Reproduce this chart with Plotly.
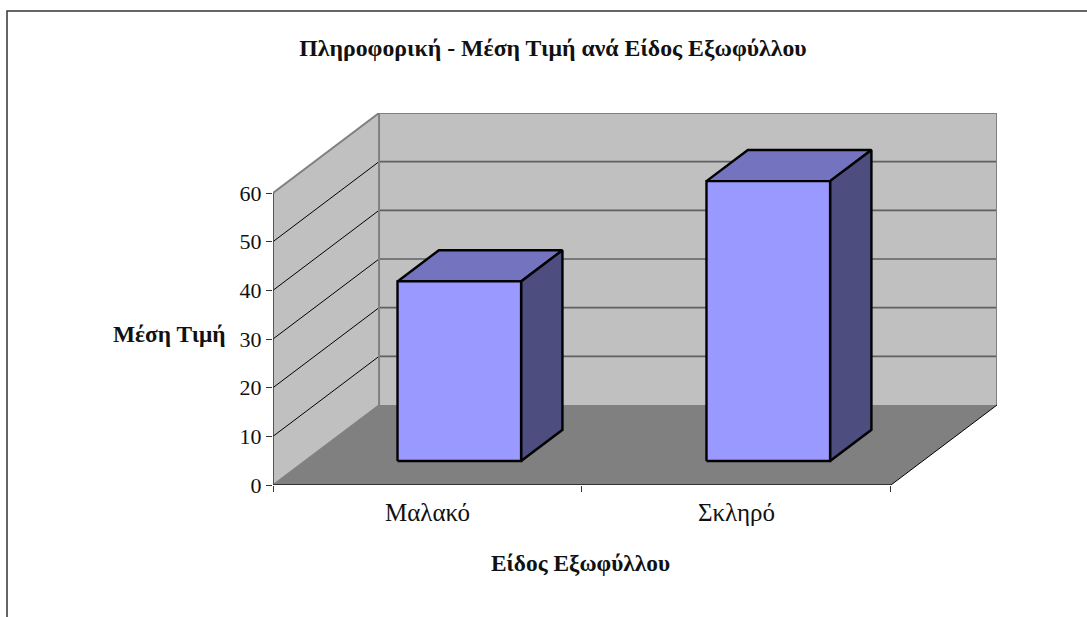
import plotly.graph_objects as go

# Data
categories = ["Μαλακό", "Σκληρό"]
values = [36.9, 57.5]
y_ticks = [0, 10, 20, 30, 40, 50, 60]
title_text = "Πληροφορική - Μέση Τιμή ανά Είδος Εξωφύλλου"
x_title = "Είδος Εξωφύλλου"
y_title = "Μέση Τιμή"

# Oblique projection of the 3D box, in axis units
DX = 106 / 308.85   # horizontal shift of the full depth, in category units
DY = 80 / 4.867     # vertical shift of the full depth, in value units
YMAX = 60
N = len(categories)
BAR_W = 0.2         # half width of bar in category units
D0, D1 = 0.30, 0.69 # bar depth extent


def P(x, y, d=0.0):
    return x + d * DX, y + d * DY


def poly(pts, fill=None, line="black", width=1.0):
    xs = [P(*p)[0] for p in pts]
    ys = [P(*p)[1] for p in pts]
    kw = dict(x=xs, y=ys, mode="lines", hoverinfo="skip", showlegend=False, cliponaxis=False)
    if fill:
        xs.append(xs[0]); ys.append(ys[0])
        kw.update(fill="toself", fillcolor=fill)
    if line is None:
        kw["line"] = dict(width=0)
    else:
        kw["line"] = dict(color=line, width=width)
    return go.Scatter(**kw)


fig = go.Figure()
WALL, FLOOR, EDGE, GRID = "#C0C0C0", "#808080", "#808080", "#606060"

# Floor, walls
fig.add_trace(poly([(0, 0, 0), (N, 0, 0), (N, 0, 1), (0, 0, 1)], fill=FLOOR, line=None))
fig.add_trace(poly([(0, 0, 1), (N, 0, 1), (N, YMAX, 1), (0, YMAX, 1)], fill=WALL, line=None))
fig.add_trace(poly([(0, 0, 0), (0, 0, 1), (0, YMAX, 1), (0, YMAX, 0)], fill=WALL, line=None))

# Gridlines
for t in y_ticks[1:-1]:
    fig.add_trace(poly([(0, t, 1), (N, t, 1)], line=GRID, width=1.6))
    fig.add_trace(poly([(0, t, 0), (0, t, 1)], line="#000000", width=1))

# Wall edges
fig.add_trace(poly([(0, 0, 0), (0, 0, 1)], line=FLOOR, width=1.5))
fig.add_trace(poly([(0, YMAX, 0), (0, YMAX, 1), (N, YMAX, 1), (N, 0, 1)], line=EDGE, width=2))
fig.add_trace(poly([(0, 0, 1), (0, YMAX, 1)], line=EDGE, width=2))
fig.add_trace(poly([(N, 0, 0), (N, 0, 1)], line="#000000", width=1))

# Bars
for i, v in enumerate(values):
    x0, x1 = i + 0.5 - BAR_W, i + 0.5 + BAR_W
    fig.add_trace(poly([(x0, v, D0), (x1, v, D0), (x1, v, D1), (x0, v, D1)], fill="#7373BF", line="#000000", width=2.4))
    fig.add_trace(poly([(x1, 0, D0), (x1, 0, D1), (x1, v, D1), (x1, v, D0)], fill="#4D4D80", line="#000000", width=2.4))
    fig.add_trace(poly([(x0, 0, D0), (x1, 0, D0), (x1, v, D0), (x0, v, D0)], fill="#9999FF", line="#000000", width=2.4))

# Front axis lines
fig.add_trace(poly([(0, 0, 0), (0, YMAX, 0)], line="#333333", width=1.5))
fig.add_trace(poly([(0, 0, 0), (N, 0, 0)], line="#333333", width=2))

W, H = 1087, 617
ML, MR, MT, MB = 273, 90, 113, 132
FONT = "Liberation Serif"
TXT = "#111111"
PW, PH = W - ML - MR, H - MT - MB


def px(v):
    return (v - ML) / PW


def py(v):
    return (H - MB - v) / PH


fig.update_layout(
    width=W, height=H,
    margin=dict(l=ML, r=MR, t=MT, b=MB, autoexpand=False),
    paper_bgcolor="white", plot_bgcolor="white",
    font=dict(family=FONT, color=TXT, size=20),
    title=dict(text="<b>" + title_text + "</b>", x=553 / W, xanchor="center", y=1 - 48 / H, yanchor="middle",
               font=dict(size=23.8, family=FONT, color=TXT)),
    xaxis=dict(range=[0, N + DX], tickmode="array",
               tickvals=[i + 0.5 for i in range(N)], ticktext=categories,
               ticks="", showgrid=False, zeroline=False, showline=False,
               ticklabelstandoff=10,
               tickfont=dict(size=25, family=FONT, color=TXT),
               minor=dict(tickmode="array", tickvals=list(range(N + 1)), ticks="outside", ticklen=6, tickwidth=1, tickcolor="#333333"),
               fixedrange=True),
    yaxis=dict(range=[0, YMAX + DY], tickmode="array", tickvals=y_ticks,
               ticks="outside", ticklen=6, tickwidth=1, tickcolor="#333333",
               showgrid=False, zeroline=False, showline=False,
               tickfont=dict(size=22, family=FONT, color=TXT), fixedrange=True),
    annotations=[
        dict(text="<b>" + y_title + "</b>", xref="paper", yref="paper",
             x=px(169), y=py(334), xanchor="center", yanchor="middle", showarrow=False,
             font=dict(size=23.4, family=FONT, color=TXT)),
        dict(text="<b>" + x_title + "</b>", xref="paper", yref="paper",
             x=px(580), y=py(563), xanchor="center", yanchor="middle", showarrow=False,
             font=dict(size=23.4, family=FONT, color=TXT)),
    ],
    shapes=[dict(type="rect", xref="paper", yref="paper", layer="below",
                 x0=px(7), x1=px(1120), y0=py(640), y1=py(11),
                 line=dict(color="#333333", width=1.5), fillcolor="white")],
)

fig.write_html("out.html", config={"displayModeBar": False},
               post_script="document.body.style.margin='0';")
